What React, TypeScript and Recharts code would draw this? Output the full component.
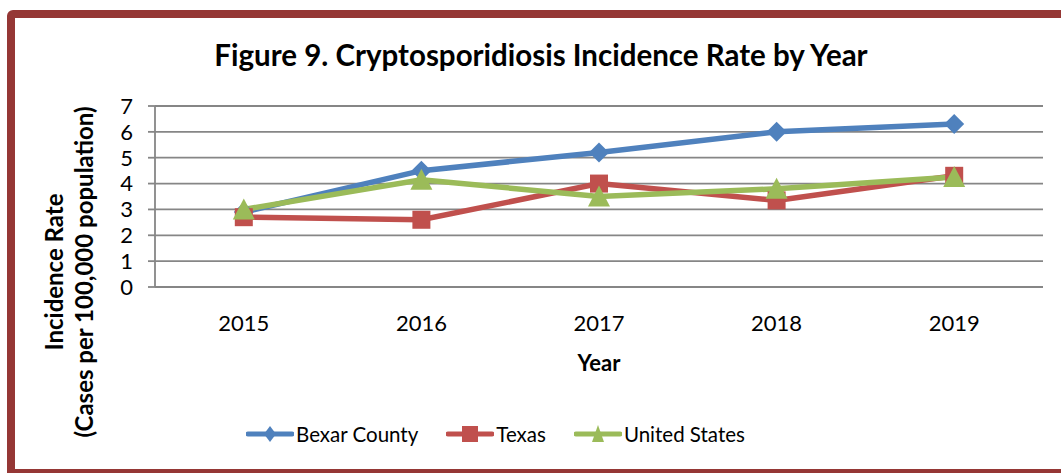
import React from 'react';
import { LineChart, Line, XAxis, YAxis, CartesianGrid, Legend, Label } from 'recharts';

const years = ['2015', '2016', '2017', '2018', '2019'];
const bexarCounty = [2.9, 4.5, 5.2, 6.0, 6.3];
const texas = [2.7, 2.6, 4.0, 3.35, 4.3];
const unitedStates = [3.0, 4.15, 3.5, 3.8, 4.25];
const yTicks = [0, 1, 2, 3, 4, 5, 6, 7];
const frameTicks = [0, 1, 2, 3, 4, 5];

const seriesNames = { bexar: 'Bexar County', texas: 'Texas', us: 'United States' };
const seriesColors = { bexar: '#4F81BD', texas: '#C0504D', us: '#9BBB59' };

const data = years.map((year, i) => ({
  year,
  bexar: bexarCounty[i],
  texas: texas[i],
  us: unitedStates[i],
}));

const FONT = 'Lato, "Open Sans", sans-serif';
const GRID = '#868686';

function markerShape(key: string, cx: number, cy: number, color: string, legend = false) {
  if (key === 'bexar') {
    const hw = legend ? 6 : 10;
    const hh = legend ? 8 : 10;
    return <polygon points={`${cx},${cy - hh} ${cx + hw},${cy} ${cx},${cy + hh} ${cx - hw},${cy}`} fill={color} />;
  }
  if (key === 'texas') {
    const h = legend ? 8 : 9;
    return <rect x={cx - h} y={cy - h} width={h * 2} height={h * 2} fill={color} />;
  }
  const hw = legend ? 6 : 11;
  const top = legend ? 9 : 11;
  const bot = legend ? 8 : 10;
  return <polygon points={`${cx},${cy - top} ${cx + hw},${cy + bot} ${cx - hw},${cy + bot}`} fill={color} />;
}

function makeDot(key: string) {
  return (props: any) => {
    const { cx, cy, index } = props;
    if (cx == null || cy == null) return <g key={`${key}-${index}`} />;
    return <g key={`${key}-${index}`}>{markerShape(key, cx, cy, (seriesColors as any)[key])}</g>;
  };
}

function renderLegend(props: any) {
  const payload = props.payload || [];
  return (
    <div style={{ display: 'flex', justifyContent: 'center', alignItems: 'center', paddingRight: 70, fontFamily: FONT, fontSize: 20.5, color: '#000' }}>
      {payload.map((entry: any, i: number) => {
        const key = entry.dataKey as string;
        const color = (seriesColors as any)[key];
        return (
          <div key={key} style={{ display: 'flex', alignItems: 'center', marginLeft: i === 0 ? 0 : 28 }}>
            <svg width={48} height={22} style={{ display: 'block' }}>
              <line x1={2} y1={11} x2={46} y2={11} stroke={color} strokeWidth={5} strokeLinecap="round" />
              {markerShape(key, 24, 11, color, true)}
            </svg>
            <span style={{ marginLeft: 2 }}>{entry.value}</span>
          </div>
        );
      })}
    </div>
  );
}

function YTitle() {
  const cy = 272;
  const x1 = 53;
  const x2 = 83;
  return (
    <g fontFamily={FONT} fontWeight="bold" fontSize={24} fill="#000">
      <text x={x1} y={cy} textAnchor="middle" dominantBaseline="central" transform={`rotate(-90, ${x1}, ${cy})`}>Incidence Rate</text>
      <text x={x2} y={cy} textAnchor="middle" dominantBaseline="central" transform={`rotate(-90, ${x2}, ${cy})`}>(Cases per 100,000 population)</text>
    </g>
  );
}

export default function App() {
  return (
    <div style={{ position: 'absolute', left: 0, top: 0, width: 1061, height: 473, overflow: 'hidden', background: '#fff' }}>
      <div style={{ position: 'absolute', left: 7, top: 10, width: 1080, height: 467, boxSizing: 'border-box', border: '8px solid #953735', borderTopLeftRadius: 6 }} />
      <div style={{ position: 'absolute', left: 0, top: 36, width: 1082, textAlign: 'center', fontFamily: FONT, fontWeight: 'bold', fontSize: 29.5, color: '#000', lineHeight: '38px' }}>
        Figure 9. Cryptosporidiosis Incidence Rate by Year
      </div>
      <div style={{ position: 'absolute', left: 0, top: 0 }}>
        <LineChart width={1061} height={473} data={data} margin={{ top: 106, right: 18, left: 0, bottom: 126 }}>
          <CartesianGrid xAxisId="b" vertical={false} stroke={GRID} strokeWidth={1.8} />
          <XAxis
            xAxisId="a"
            type="number"
            domain={[0, 5]}
            allowDataOverflow
            ticks={frameTicks}
            tick={false}
            tickSize={8}
            height={10}
            axisLine={{ stroke: GRID, strokeWidth: 1.8 }}
            tickLine={{ stroke: GRID, strokeWidth: 1.8 }}
          />
          <XAxis
            xAxisId="b"
            dataKey="year"
            scale="band"
            height={50}
            axisLine={false}
            tickLine={false}
            tickSize={0}
            tickMargin={18}
            tick={{ fontFamily: FONT, fontSize: 22, fill: '#000' }}
          >
            <Label value="Year" position="bottom" offset={8} style={{ fontFamily: FONT, fontWeight: 'bold', fontSize: 22, fill: '#000' }} />
          </XAxis>
          <YAxis
            width={155}
            domain={[0, 7]}
            ticks={yTicks}
            interval={0}
            tickSize={7}
            tickMargin={15}
            axisLine={{ stroke: GRID, strokeWidth: 1.8 }}
            tickLine={{ stroke: GRID, strokeWidth: 1.8 }}
            tick={{ fontFamily: FONT, fontSize: 22, fill: '#000' }}
          >
            <Label content={YTitle} />
          </YAxis>
          <Legend layout="horizontal" verticalAlign="middle" align="center" content={renderLegend} wrapperStyle={{ top: 422, left: 0, width: 1061 }} />
          <Line xAxisId="b" dataKey="bexar" name={seriesNames.bexar} stroke={seriesColors.bexar} strokeWidth={5.5} dot={makeDot('bexar')} activeDot={false} isAnimationActive={false} />
          <Line xAxisId="b" dataKey="texas" name={seriesNames.texas} stroke={seriesColors.texas} strokeWidth={5.5} dot={makeDot('texas')} activeDot={false} isAnimationActive={false} />
          <Line xAxisId="b" dataKey="us" name={seriesNames.us} stroke={seriesColors.us} strokeWidth={5.5} dot={makeDot('us')} activeDot={false} isAnimationActive={false} />
        </LineChart>
      </div>
    </div>
  );
}
